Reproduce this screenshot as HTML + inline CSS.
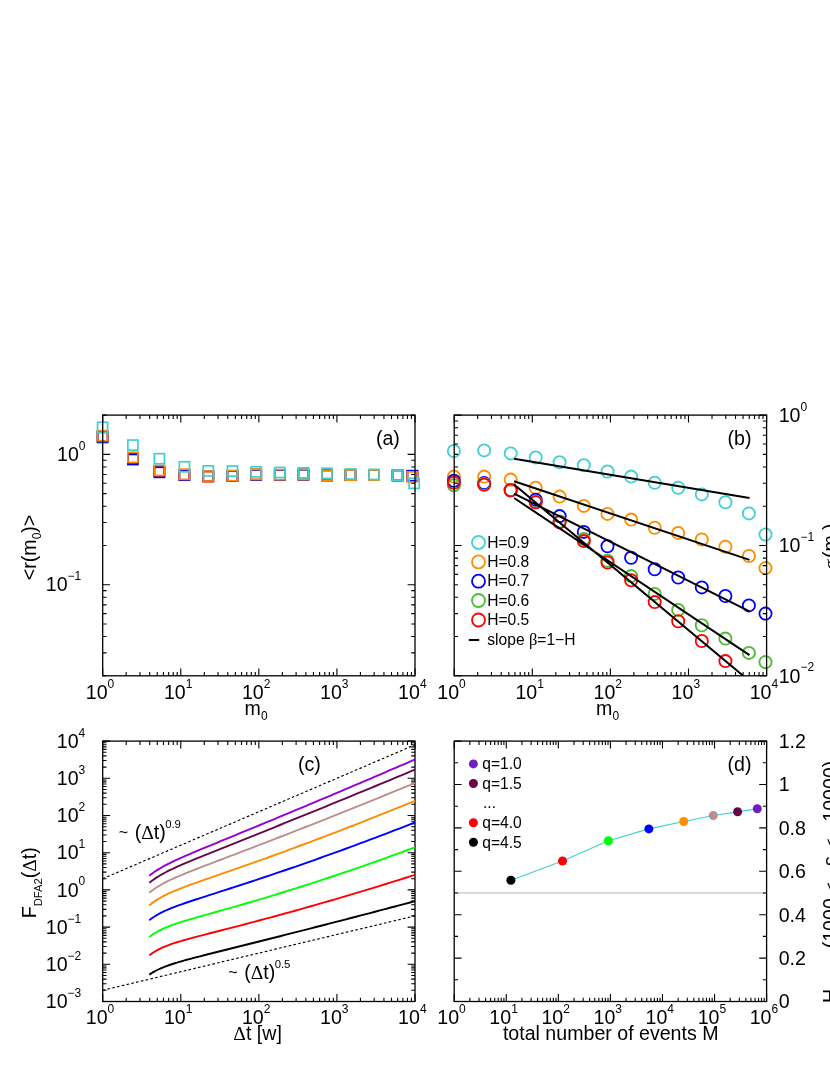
<!DOCTYPE html>
<html><head><meta charset="utf-8"><title>figure</title>
<style>html,body{margin:0;padding:0;background:#fff}svg{display:block;will-change:transform}text{font-family:"Liberation Sans",sans-serif;fill:#000}</style>
</head><body>
<svg width="830" height="1075" viewBox="0 0 830 1075">
<rect width="830" height="1075" fill="#fff"/>
<rect x="97.55" y="432.65" width="10.1" height="10.1" fill="none" stroke="#4cbb32" stroke-width="1.7"/>
<rect x="127.85" y="452.95" width="10.1" height="10.1" fill="none" stroke="#4cbb32" stroke-width="1.7"/>
<rect x="154.35" y="465.95" width="10.1" height="10.1" fill="none" stroke="#4cbb32" stroke-width="1.7"/>
<rect x="179.35" y="470.15" width="10.1" height="10.1" fill="none" stroke="#4cbb32" stroke-width="1.7"/>
<rect x="203.25" y="471.15" width="10.1" height="10.1" fill="none" stroke="#4cbb32" stroke-width="1.7"/>
<rect x="227.45" y="470.75" width="10.1" height="10.1" fill="none" stroke="#4cbb32" stroke-width="1.7"/>
<rect x="251.15" y="469.55" width="10.1" height="10.1" fill="none" stroke="#4cbb32" stroke-width="1.7"/>
<rect x="274.75" y="469.95" width="10.1" height="10.1" fill="none" stroke="#4cbb32" stroke-width="1.7"/>
<rect x="298.35" y="469.55" width="10.1" height="10.1" fill="none" stroke="#4cbb32" stroke-width="1.7"/>
<rect x="321.85" y="470.35" width="10.1" height="10.1" fill="none" stroke="#4cbb32" stroke-width="1.7"/>
<rect x="345.45" y="470.05" width="10.1" height="10.1" fill="none" stroke="#4cbb32" stroke-width="1.7"/>
<rect x="369.05" y="470.05" width="10.1" height="10.1" fill="none" stroke="#4cbb32" stroke-width="1.7"/>
<rect x="392.55" y="470.35" width="10.1" height="10.1" fill="none" stroke="#4cbb32" stroke-width="1.7"/>
<rect x="407.35" y="470.95" width="10.1" height="10.1" fill="none" stroke="#4cbb32" stroke-width="1.7"/>
<rect x="97.55" y="430.95" width="10.1" height="10.1" fill="none" stroke="#ff0000" stroke-width="1.7"/>
<rect x="127.85" y="452.95" width="10.1" height="10.1" fill="none" stroke="#ff0000" stroke-width="1.7"/>
<rect x="154.35" y="465.95" width="10.1" height="10.1" fill="none" stroke="#ff0000" stroke-width="1.7"/>
<rect x="179.35" y="469.75" width="10.1" height="10.1" fill="none" stroke="#ff0000" stroke-width="1.7"/>
<rect x="203.25" y="471.65" width="10.1" height="10.1" fill="none" stroke="#ff0000" stroke-width="1.7"/>
<rect x="227.45" y="470.95" width="10.1" height="10.1" fill="none" stroke="#ff0000" stroke-width="1.7"/>
<rect x="251.15" y="469.55" width="10.1" height="10.1" fill="none" stroke="#ff0000" stroke-width="1.7"/>
<rect x="274.75" y="469.95" width="10.1" height="10.1" fill="none" stroke="#ff0000" stroke-width="1.7"/>
<rect x="298.35" y="469.55" width="10.1" height="10.1" fill="none" stroke="#ff0000" stroke-width="1.7"/>
<rect x="321.85" y="470.35" width="10.1" height="10.1" fill="none" stroke="#ff0000" stroke-width="1.7"/>
<rect x="345.45" y="470.05" width="10.1" height="10.1" fill="none" stroke="#ff0000" stroke-width="1.7"/>
<rect x="369.05" y="470.05" width="10.1" height="10.1" fill="none" stroke="#ff0000" stroke-width="1.7"/>
<rect x="392.55" y="470.35" width="10.1" height="10.1" fill="none" stroke="#ff0000" stroke-width="1.7"/>
<rect x="407.35" y="470.95" width="10.1" height="10.1" fill="none" stroke="#ff0000" stroke-width="1.7"/>
<rect x="97.55" y="431.85" width="10.1" height="10.1" fill="none" stroke="#0000ff" stroke-width="1.7"/>
<rect x="127.85" y="454.45" width="10.1" height="10.1" fill="none" stroke="#0000ff" stroke-width="1.7"/>
<rect x="154.35" y="467.25" width="10.1" height="10.1" fill="none" stroke="#0000ff" stroke-width="1.7"/>
<rect x="179.35" y="469.95" width="10.1" height="10.1" fill="none" stroke="#0000ff" stroke-width="1.7"/>
<rect x="203.25" y="470.95" width="10.1" height="10.1" fill="none" stroke="#0000ff" stroke-width="1.7"/>
<rect x="227.45" y="470.95" width="10.1" height="10.1" fill="none" stroke="#0000ff" stroke-width="1.7"/>
<rect x="251.15" y="469.75" width="10.1" height="10.1" fill="none" stroke="#0000ff" stroke-width="1.7"/>
<rect x="274.75" y="469.95" width="10.1" height="10.1" fill="none" stroke="#0000ff" stroke-width="1.7"/>
<rect x="298.35" y="469.55" width="10.1" height="10.1" fill="none" stroke="#0000ff" stroke-width="1.7"/>
<rect x="321.85" y="470.35" width="10.1" height="10.1" fill="none" stroke="#0000ff" stroke-width="1.7"/>
<rect x="345.45" y="470.05" width="10.1" height="10.1" fill="none" stroke="#0000ff" stroke-width="1.7"/>
<rect x="369.05" y="470.05" width="10.1" height="10.1" fill="none" stroke="#0000ff" stroke-width="1.7"/>
<rect x="392.55" y="470.35" width="10.1" height="10.1" fill="none" stroke="#0000ff" stroke-width="1.7"/>
<rect x="407.35" y="470.65" width="10.1" height="10.1" fill="none" stroke="#0000ff" stroke-width="1.7"/>
<rect x="97.55" y="430.65" width="10.1" height="10.1" fill="none" stroke="#ff8c00" stroke-width="1.7"/>
<rect x="127.85" y="452.25" width="10.1" height="10.1" fill="none" stroke="#ff8c00" stroke-width="1.7"/>
<rect x="154.35" y="465.35" width="10.1" height="10.1" fill="none" stroke="#ff8c00" stroke-width="1.7"/>
<rect x="179.35" y="469.25" width="10.1" height="10.1" fill="none" stroke="#ff8c00" stroke-width="1.7"/>
<rect x="203.25" y="470.95" width="10.1" height="10.1" fill="none" stroke="#ff8c00" stroke-width="1.7"/>
<rect x="227.45" y="470.65" width="10.1" height="10.1" fill="none" stroke="#ff8c00" stroke-width="1.7"/>
<rect x="251.15" y="469.25" width="10.1" height="10.1" fill="none" stroke="#ff8c00" stroke-width="1.7"/>
<rect x="274.75" y="469.65" width="10.1" height="10.1" fill="none" stroke="#ff8c00" stroke-width="1.7"/>
<rect x="298.35" y="469.35" width="10.1" height="10.1" fill="none" stroke="#ff8c00" stroke-width="1.7"/>
<rect x="321.85" y="470.35" width="10.1" height="10.1" fill="none" stroke="#ff8c00" stroke-width="1.7"/>
<rect x="345.45" y="470.05" width="10.1" height="10.1" fill="none" stroke="#ff8c00" stroke-width="1.7"/>
<rect x="369.05" y="470.05" width="10.1" height="10.1" fill="none" stroke="#ff8c00" stroke-width="1.7"/>
<rect x="392.55" y="470.35" width="10.1" height="10.1" fill="none" stroke="#ff8c00" stroke-width="1.7"/>
<rect x="407.35" y="471.85" width="10.1" height="10.1" fill="none" stroke="#ff8c00" stroke-width="1.7"/>
<rect x="97.55" y="422.25" width="10.1" height="10.1" fill="none" stroke="#40d0d0" stroke-width="1.7"/>
<rect x="127.85" y="440.05" width="10.1" height="10.1" fill="none" stroke="#40d0d0" stroke-width="1.7"/>
<rect x="154.35" y="453.65" width="10.1" height="10.1" fill="none" stroke="#40d0d0" stroke-width="1.7"/>
<rect x="179.35" y="461.75" width="10.1" height="10.1" fill="none" stroke="#40d0d0" stroke-width="1.7"/>
<rect x="203.25" y="465.85" width="10.1" height="10.1" fill="none" stroke="#40d0d0" stroke-width="1.7"/>
<rect x="227.45" y="466.05" width="10.1" height="10.1" fill="none" stroke="#40d0d0" stroke-width="1.7"/>
<rect x="251.15" y="466.75" width="10.1" height="10.1" fill="none" stroke="#40d0d0" stroke-width="1.7"/>
<rect x="274.75" y="467.45" width="10.1" height="10.1" fill="none" stroke="#40d0d0" stroke-width="1.7"/>
<rect x="298.35" y="467.75" width="10.1" height="10.1" fill="none" stroke="#40d0d0" stroke-width="1.7"/>
<rect x="321.85" y="468.25" width="10.1" height="10.1" fill="none" stroke="#40d0d0" stroke-width="1.7"/>
<rect x="345.45" y="468.95" width="10.1" height="10.1" fill="none" stroke="#40d0d0" stroke-width="1.7"/>
<rect x="369.05" y="469.35" width="10.1" height="10.1" fill="none" stroke="#40d0d0" stroke-width="1.7"/>
<rect x="392.55" y="470.05" width="10.1" height="10.1" fill="none" stroke="#40d0d0" stroke-width="1.7"/>
<rect x="409.15" y="478.35" width="10.1" height="10.1" fill="none" stroke="#40d0d0" stroke-width="1.7"/>
<rect x="102.7" y="415.1" width="312.30" height="260.70" fill="none" stroke="#000" stroke-width="1.3"/>
<path d="M102.70 675.8v-7.4M102.70 415.1v7.4M126.20 675.8v-3.8M126.20 415.1v3.8M139.95 675.8v-3.8M139.95 415.1v3.8M149.71 675.8v-3.8M149.71 415.1v3.8M157.27 675.8v-3.8M157.27 415.1v3.8M163.45 675.8v-3.8M163.45 415.1v3.8M168.68 675.8v-3.8M168.68 415.1v3.8M173.21 675.8v-3.8M173.21 415.1v3.8M177.20 675.8v-3.8M177.20 415.1v3.8M180.78 675.8v-7.4M180.78 415.1v7.4M204.28 675.8v-3.8M204.28 415.1v3.8M218.03 675.8v-3.8M218.03 415.1v3.8M227.78 675.8v-3.8M227.78 415.1v3.8M235.35 675.8v-3.8M235.35 415.1v3.8M241.53 675.8v-3.8M241.53 415.1v3.8M246.76 675.8v-3.8M246.76 415.1v3.8M251.28 675.8v-3.8M251.28 415.1v3.8M255.28 675.8v-3.8M255.28 415.1v3.8M258.85 675.8v-7.4M258.85 415.1v7.4M282.35 675.8v-3.8M282.35 415.1v3.8M296.10 675.8v-3.8M296.10 415.1v3.8M305.86 675.8v-3.8M305.86 415.1v3.8M313.42 675.8v-3.8M313.42 415.1v3.8M319.60 675.8v-3.8M319.60 415.1v3.8M324.83 675.8v-3.8M324.83 415.1v3.8M329.36 675.8v-3.8M329.36 415.1v3.8M333.35 675.8v-3.8M333.35 415.1v3.8M336.93 675.8v-7.4M336.93 415.1v7.4M360.43 675.8v-3.8M360.43 415.1v3.8M374.18 675.8v-3.8M374.18 415.1v3.8M383.93 675.8v-3.8M383.93 415.1v3.8M391.50 675.8v-3.8M391.50 415.1v3.8M397.68 675.8v-3.8M397.68 415.1v3.8M402.91 675.8v-3.8M402.91 415.1v3.8M407.43 675.8v-3.8M407.43 415.1v3.8M411.43 675.8v-3.8M411.43 415.1v3.8M415.00 675.8v-7.4M415.00 415.1v7.4" stroke="#000" stroke-width="1.1" fill="none"/>
<path d="M102.7 675.80h3.8M415.0 675.80h-3.8M102.7 652.85h3.8M415.0 652.85h-3.8M102.7 636.56h3.8M415.0 636.56h-3.8M102.7 623.93h3.8M415.0 623.93h-3.8M102.7 613.61h3.8M415.0 613.61h-3.8M102.7 604.88h3.8M415.0 604.88h-3.8M102.7 597.32h3.8M415.0 597.32h-3.8M102.7 590.65h3.8M415.0 590.65h-3.8M102.7 584.69h7.4M415.0 584.69h-7.4M102.7 545.45h3.8M415.0 545.45h-3.8M102.7 522.50h3.8M415.0 522.50h-3.8M102.7 506.21h3.8M415.0 506.21h-3.8M102.7 493.58h3.8M415.0 493.58h-3.8M102.7 483.26h3.8M415.0 483.26h-3.8M102.7 474.53h3.8M415.0 474.53h-3.8M102.7 466.97h3.8M415.0 466.97h-3.8M102.7 460.30h3.8M415.0 460.30h-3.8M102.7 454.34h7.4M415.0 454.34h-7.4M102.7 415.10h3.8M415.0 415.10h-3.8" stroke="#000" stroke-width="1.1" fill="none"/>
<text x="85.80" y="698.90" font-size="19.6">10<tspan dy="-11.2" font-size="12.0">0</tspan></text>
<text x="163.88" y="698.90" font-size="19.6">10<tspan dy="-11.2" font-size="12.0">1</tspan></text>
<text x="241.95" y="698.90" font-size="19.6">10<tspan dy="-11.2" font-size="12.0">2</tspan></text>
<text x="320.03" y="698.90" font-size="19.6">10<tspan dy="-11.2" font-size="12.0">3</tspan></text>
<text x="398.10" y="698.90" font-size="19.6">10<tspan dy="-11.2" font-size="12.0">4</tspan></text>
<text x="57.00" y="460.84" font-size="19.6">10<tspan dy="-11.2" font-size="12.0">0</tspan></text>
<text x="45.80" y="591.19" font-size="19.6">10<tspan dy="-11.2" font-size="12.0">−1</tspan></text>
<text x="244.6" y="714.6" font-size="19.6">m<tspan dy="5" font-size="12.0">0</tspan></text>
<text x="375.9" y="444.6" font-size="19.6">(a)</text>
<text transform="translate(35.9,580.2) rotate(-90)" font-size="19.6">&lt;r(m<tspan dy="5" font-size="12.0">0</tspan><tspan dy="-5">)&gt;</tspan></text>
<circle cx="453.90" cy="451.00" r="6.1" fill="none" stroke="#40d0d0" stroke-width="1.8"/>
<circle cx="484.20" cy="450.40" r="6.1" fill="none" stroke="#40d0d0" stroke-width="1.8"/>
<circle cx="510.70" cy="453.40" r="6.1" fill="none" stroke="#40d0d0" stroke-width="1.8"/>
<circle cx="535.70" cy="457.50" r="6.1" fill="none" stroke="#40d0d0" stroke-width="1.8"/>
<circle cx="559.60" cy="462.20" r="6.1" fill="none" stroke="#40d0d0" stroke-width="1.8"/>
<circle cx="583.80" cy="465.30" r="6.1" fill="none" stroke="#40d0d0" stroke-width="1.8"/>
<circle cx="607.50" cy="471.50" r="6.1" fill="none" stroke="#40d0d0" stroke-width="1.8"/>
<circle cx="631.10" cy="476.60" r="6.1" fill="none" stroke="#40d0d0" stroke-width="1.8"/>
<circle cx="654.70" cy="482.70" r="6.1" fill="none" stroke="#40d0d0" stroke-width="1.8"/>
<circle cx="678.20" cy="487.80" r="6.1" fill="none" stroke="#40d0d0" stroke-width="1.8"/>
<circle cx="701.80" cy="494.40" r="6.1" fill="none" stroke="#40d0d0" stroke-width="1.8"/>
<circle cx="725.40" cy="502.20" r="6.1" fill="none" stroke="#40d0d0" stroke-width="1.8"/>
<circle cx="748.90" cy="513.40" r="6.1" fill="none" stroke="#40d0d0" stroke-width="1.8"/>
<circle cx="765.50" cy="534.50" r="6.1" fill="none" stroke="#40d0d0" stroke-width="1.8"/>
<circle cx="453.90" cy="476.60" r="6.1" fill="none" stroke="#ff8c00" stroke-width="1.8"/>
<circle cx="484.20" cy="476.60" r="6.1" fill="none" stroke="#ff8c00" stroke-width="1.8"/>
<circle cx="510.70" cy="479.60" r="6.1" fill="none" stroke="#ff8c00" stroke-width="1.8"/>
<circle cx="535.70" cy="487.80" r="6.1" fill="none" stroke="#ff8c00" stroke-width="1.8"/>
<circle cx="559.60" cy="496.60" r="6.1" fill="none" stroke="#ff8c00" stroke-width="1.8"/>
<circle cx="583.80" cy="505.90" r="6.1" fill="none" stroke="#ff8c00" stroke-width="1.8"/>
<circle cx="607.50" cy="513.90" r="6.1" fill="none" stroke="#ff8c00" stroke-width="1.8"/>
<circle cx="631.10" cy="519.60" r="6.1" fill="none" stroke="#ff8c00" stroke-width="1.8"/>
<circle cx="654.70" cy="527.80" r="6.1" fill="none" stroke="#ff8c00" stroke-width="1.8"/>
<circle cx="678.20" cy="532.90" r="6.1" fill="none" stroke="#ff8c00" stroke-width="1.8"/>
<circle cx="701.80" cy="539.50" r="6.1" fill="none" stroke="#ff8c00" stroke-width="1.8"/>
<circle cx="725.40" cy="546.80" r="6.1" fill="none" stroke="#ff8c00" stroke-width="1.8"/>
<circle cx="748.90" cy="556.00" r="6.1" fill="none" stroke="#ff8c00" stroke-width="1.8"/>
<circle cx="765.50" cy="568.10" r="6.1" fill="none" stroke="#ff8c00" stroke-width="1.8"/>
<circle cx="453.90" cy="480.70" r="6.1" fill="none" stroke="#0000ff" stroke-width="1.8"/>
<circle cx="484.20" cy="483.10" r="6.1" fill="none" stroke="#0000ff" stroke-width="1.8"/>
<circle cx="510.70" cy="490.30" r="6.1" fill="none" stroke="#0000ff" stroke-width="1.8"/>
<circle cx="535.70" cy="499.70" r="6.1" fill="none" stroke="#0000ff" stroke-width="1.8"/>
<circle cx="559.60" cy="516.10" r="6.1" fill="none" stroke="#0000ff" stroke-width="1.8"/>
<circle cx="583.80" cy="531.90" r="6.1" fill="none" stroke="#0000ff" stroke-width="1.8"/>
<circle cx="607.50" cy="546.30" r="6.1" fill="none" stroke="#0000ff" stroke-width="1.8"/>
<circle cx="631.10" cy="557.70" r="6.1" fill="none" stroke="#0000ff" stroke-width="1.8"/>
<circle cx="654.70" cy="569.30" r="6.1" fill="none" stroke="#0000ff" stroke-width="1.8"/>
<circle cx="678.20" cy="577.50" r="6.1" fill="none" stroke="#0000ff" stroke-width="1.8"/>
<circle cx="701.80" cy="587.40" r="6.1" fill="none" stroke="#0000ff" stroke-width="1.8"/>
<circle cx="725.40" cy="596.00" r="6.1" fill="none" stroke="#0000ff" stroke-width="1.8"/>
<circle cx="748.90" cy="605.40" r="6.1" fill="none" stroke="#0000ff" stroke-width="1.8"/>
<circle cx="765.50" cy="613.60" r="6.1" fill="none" stroke="#0000ff" stroke-width="1.8"/>
<circle cx="453.90" cy="485.20" r="6.1" fill="none" stroke="#4cbb32" stroke-width="1.8"/>
<circle cx="484.20" cy="484.00" r="6.1" fill="none" stroke="#4cbb32" stroke-width="1.8"/>
<circle cx="510.70" cy="490.00" r="6.1" fill="none" stroke="#4cbb32" stroke-width="1.8"/>
<circle cx="535.70" cy="501.80" r="6.1" fill="none" stroke="#4cbb32" stroke-width="1.8"/>
<circle cx="559.60" cy="521.60" r="6.1" fill="none" stroke="#4cbb32" stroke-width="1.8"/>
<circle cx="583.80" cy="539.00" r="6.1" fill="none" stroke="#4cbb32" stroke-width="1.8"/>
<circle cx="607.50" cy="560.70" r="6.1" fill="none" stroke="#4cbb32" stroke-width="1.8"/>
<circle cx="631.10" cy="576.10" r="6.1" fill="none" stroke="#4cbb32" stroke-width="1.8"/>
<circle cx="654.70" cy="593.90" r="6.1" fill="none" stroke="#4cbb32" stroke-width="1.8"/>
<circle cx="678.20" cy="609.90" r="6.1" fill="none" stroke="#4cbb32" stroke-width="1.8"/>
<circle cx="701.80" cy="625.20" r="6.1" fill="none" stroke="#4cbb32" stroke-width="1.8"/>
<circle cx="725.40" cy="638.60" r="6.1" fill="none" stroke="#4cbb32" stroke-width="1.8"/>
<circle cx="748.90" cy="652.90" r="6.1" fill="none" stroke="#4cbb32" stroke-width="1.8"/>
<circle cx="765.50" cy="662.10" r="6.1" fill="none" stroke="#4cbb32" stroke-width="1.8"/>
<circle cx="453.90" cy="482.70" r="6.1" fill="none" stroke="#ff0000" stroke-width="1.8"/>
<circle cx="484.20" cy="484.80" r="6.1" fill="none" stroke="#ff0000" stroke-width="1.8"/>
<circle cx="510.70" cy="490.30" r="6.1" fill="none" stroke="#ff0000" stroke-width="1.8"/>
<circle cx="535.70" cy="502.20" r="6.1" fill="none" stroke="#ff0000" stroke-width="1.8"/>
<circle cx="559.60" cy="522.20" r="6.1" fill="none" stroke="#ff0000" stroke-width="1.8"/>
<circle cx="583.80" cy="541.10" r="6.1" fill="none" stroke="#ff0000" stroke-width="1.8"/>
<circle cx="607.50" cy="562.50" r="6.1" fill="none" stroke="#ff0000" stroke-width="1.8"/>
<circle cx="631.10" cy="580.20" r="6.1" fill="none" stroke="#ff0000" stroke-width="1.8"/>
<circle cx="654.70" cy="602.10" r="6.1" fill="none" stroke="#ff0000" stroke-width="1.8"/>
<circle cx="678.20" cy="621.20" r="6.1" fill="none" stroke="#ff0000" stroke-width="1.8"/>
<circle cx="701.80" cy="641.00" r="6.1" fill="none" stroke="#ff0000" stroke-width="1.8"/>
<circle cx="725.40" cy="661.10" r="6.1" fill="none" stroke="#ff0000" stroke-width="1.8"/>
<circle cx="478.5" cy="542.4" r="6.5" fill="none" stroke="#40d0d0" stroke-width="1.8"/>
<text x="487.2" y="547.60" font-size="15.6">H=0.9</text>
<circle cx="478.5" cy="561.9" r="6.5" fill="none" stroke="#ff8c00" stroke-width="1.8"/>
<text x="487.2" y="567.10" font-size="15.6">H=0.8</text>
<circle cx="478.5" cy="581.2" r="6.5" fill="none" stroke="#0000ff" stroke-width="1.8"/>
<text x="487.2" y="586.40" font-size="15.6">H=0.7</text>
<circle cx="478.5" cy="600.5" r="6.5" fill="none" stroke="#4cbb32" stroke-width="1.8"/>
<text x="487.2" y="605.70" font-size="15.6">H=0.6</text>
<circle cx="478.5" cy="620.0" r="6.5" fill="none" stroke="#ff0000" stroke-width="1.8"/>
<text x="487.2" y="625.20" font-size="15.6">H=0.5</text>
<path d="M468.8 640H479.2" stroke="#000" stroke-width="2"/>
<text x="487.3" y="645.2" font-size="15.6">slope <tspan font-family="Liberation Serif" font-size="16.5">β</tspan>=1−H</text>
<clipPath id="cb"><rect x="454.2" y="415.1" width="312.4" height="260.7"/></clipPath>
<path clip-path="url(#cb)" d="M514.1 458.75L749.5 498.04M514.1 481.3L749.5 559.88M514.1 493.6L749.5 611.47M514.1 498.0L749.5 655.15M514.1 484.6L749.5 681.04" stroke="#000" stroke-width="2" fill="none"/>
<rect x="454.2" y="415.1" width="312.40" height="260.70" fill="none" stroke="#000" stroke-width="1.3"/>
<path d="M454.20 675.8v-7.4M454.20 415.1v7.4M477.71 675.8v-3.8M477.71 415.1v3.8M491.46 675.8v-3.8M491.46 415.1v3.8M501.22 675.8v-3.8M501.22 415.1v3.8M508.79 675.8v-3.8M508.79 415.1v3.8M514.97 675.8v-3.8M514.97 415.1v3.8M520.20 675.8v-3.8M520.20 415.1v3.8M524.73 675.8v-3.8M524.73 415.1v3.8M528.73 675.8v-3.8M528.73 415.1v3.8M532.30 675.8v-7.4M532.30 415.1v7.4M555.81 675.8v-3.8M555.81 415.1v3.8M569.56 675.8v-3.8M569.56 415.1v3.8M579.32 675.8v-3.8M579.32 415.1v3.8M586.89 675.8v-3.8M586.89 415.1v3.8M593.07 675.8v-3.8M593.07 415.1v3.8M598.30 675.8v-3.8M598.30 415.1v3.8M602.83 675.8v-3.8M602.83 415.1v3.8M606.83 675.8v-3.8M606.83 415.1v3.8M610.40 675.8v-7.4M610.40 415.1v7.4M633.91 675.8v-3.8M633.91 415.1v3.8M647.66 675.8v-3.8M647.66 415.1v3.8M657.42 675.8v-3.8M657.42 415.1v3.8M664.99 675.8v-3.8M664.99 415.1v3.8M671.17 675.8v-3.8M671.17 415.1v3.8M676.40 675.8v-3.8M676.40 415.1v3.8M680.93 675.8v-3.8M680.93 415.1v3.8M684.93 675.8v-3.8M684.93 415.1v3.8M688.50 675.8v-7.4M688.50 415.1v7.4M712.01 675.8v-3.8M712.01 415.1v3.8M725.76 675.8v-3.8M725.76 415.1v3.8M735.52 675.8v-3.8M735.52 415.1v3.8M743.09 675.8v-3.8M743.09 415.1v3.8M749.27 675.8v-3.8M749.27 415.1v3.8M754.50 675.8v-3.8M754.50 415.1v3.8M759.03 675.8v-3.8M759.03 415.1v3.8M763.03 675.8v-3.8M763.03 415.1v3.8M766.60 675.8v-7.4M766.60 415.1v7.4" stroke="#000" stroke-width="1.1" fill="none"/>
<path d="M454.2 675.80h7.4M766.6 675.80h-7.4M454.2 636.56h3.8M766.6 636.56h-3.8M454.2 613.61h3.8M766.6 613.61h-3.8M454.2 597.32h3.8M766.6 597.32h-3.8M454.2 584.69h3.8M766.6 584.69h-3.8M454.2 574.37h3.8M766.6 574.37h-3.8M454.2 565.64h3.8M766.6 565.64h-3.8M454.2 558.08h3.8M766.6 558.08h-3.8M454.2 551.41h3.8M766.6 551.41h-3.8M454.2 545.45h7.4M766.6 545.45h-7.4M454.2 506.21h3.8M766.6 506.21h-3.8M454.2 483.26h3.8M766.6 483.26h-3.8M454.2 466.97h3.8M766.6 466.97h-3.8M454.2 454.34h3.8M766.6 454.34h-3.8M454.2 444.02h3.8M766.6 444.02h-3.8M454.2 435.29h3.8M766.6 435.29h-3.8M454.2 427.73h3.8M766.6 427.73h-3.8M454.2 421.06h3.8M766.6 421.06h-3.8M454.2 415.10h7.4M766.6 415.10h-7.4" stroke="#000" stroke-width="1.1" fill="none"/>
<text x="437.30" y="698.90" font-size="19.6">10<tspan dy="-11.2" font-size="12.0">0</tspan></text>
<text x="515.40" y="698.90" font-size="19.6">10<tspan dy="-11.2" font-size="12.0">1</tspan></text>
<text x="593.50" y="698.90" font-size="19.6">10<tspan dy="-11.2" font-size="12.0">2</tspan></text>
<text x="671.60" y="698.90" font-size="19.6">10<tspan dy="-11.2" font-size="12.0">3</tspan></text>
<text x="749.70" y="698.90" font-size="19.6">10<tspan dy="-11.2" font-size="12.0">4</tspan></text>
<text x="778.70" y="421.90" font-size="19.6">10<tspan dy="-11.2" font-size="12.0">0</tspan></text>
<text x="778.70" y="552.25" font-size="19.6">10<tspan dy="-11.2" font-size="12.0">−1</tspan></text>
<text x="778.70" y="682.60" font-size="19.6">10<tspan dy="-11.2" font-size="12.0">−2</tspan></text>
<text x="244.6" y="714.6" font-size="19.6" transform="translate(351.5,0)">m<tspan dy="5" font-size="12.0">0</tspan></text>
<text x="727.5" y="444.7" font-size="19.6">(b)</text>
<text transform="translate(836.8,569.5) rotate(-90)" font-size="19.6"><tspan font-family="Liberation Serif">σ</tspan><tspan x="11.5">(m</tspan><tspan dy="5" font-size="12.0">0</tspan><tspan dy="-5" x="39.5">)</tspan></text>
<path d="M102.7 878.70L415.0 744.78M102.7 990.30L415.0 915.90" stroke="#000" stroke-width="1.15" stroke-dasharray="2.6 2.3" fill="none"/>
<rect x="102.7" y="741.1" width="312.30" height="260.40" fill="none" stroke="#000" stroke-width="1.3"/>
<path d="M102.70 1001.5v-7.4M102.70 741.1v7.4M126.20 1001.5v-3.8M126.20 741.1v3.8M139.95 1001.5v-3.8M139.95 741.1v3.8M149.71 1001.5v-3.8M149.71 741.1v3.8M157.27 1001.5v-3.8M157.27 741.1v3.8M163.45 1001.5v-3.8M163.45 741.1v3.8M168.68 1001.5v-3.8M168.68 741.1v3.8M173.21 1001.5v-3.8M173.21 741.1v3.8M177.20 1001.5v-3.8M177.20 741.1v3.8M180.78 1001.5v-7.4M180.78 741.1v7.4M204.28 1001.5v-3.8M204.28 741.1v3.8M218.03 1001.5v-3.8M218.03 741.1v3.8M227.78 1001.5v-3.8M227.78 741.1v3.8M235.35 1001.5v-3.8M235.35 741.1v3.8M241.53 1001.5v-3.8M241.53 741.1v3.8M246.76 1001.5v-3.8M246.76 741.1v3.8M251.28 1001.5v-3.8M251.28 741.1v3.8M255.28 1001.5v-3.8M255.28 741.1v3.8M258.85 1001.5v-7.4M258.85 741.1v7.4M282.35 1001.5v-3.8M282.35 741.1v3.8M296.10 1001.5v-3.8M296.10 741.1v3.8M305.86 1001.5v-3.8M305.86 741.1v3.8M313.42 1001.5v-3.8M313.42 741.1v3.8M319.60 1001.5v-3.8M319.60 741.1v3.8M324.83 1001.5v-3.8M324.83 741.1v3.8M329.36 1001.5v-3.8M329.36 741.1v3.8M333.35 1001.5v-3.8M333.35 741.1v3.8M336.93 1001.5v-7.4M336.93 741.1v7.4M360.43 1001.5v-3.8M360.43 741.1v3.8M374.18 1001.5v-3.8M374.18 741.1v3.8M383.93 1001.5v-3.8M383.93 741.1v3.8M391.50 1001.5v-3.8M391.50 741.1v3.8M397.68 1001.5v-3.8M397.68 741.1v3.8M402.91 1001.5v-3.8M402.91 741.1v3.8M407.43 1001.5v-3.8M407.43 741.1v3.8M411.43 1001.5v-3.8M411.43 741.1v3.8M415.00 1001.5v-7.4M415.00 741.1v7.4" stroke="#000" stroke-width="1.1" fill="none"/>
<path d="M102.7 1001.50h7.4M415.0 1001.50h-7.4M102.7 990.30h3.8M415.0 990.30h-3.8M102.7 983.75h3.8M415.0 983.75h-3.8M102.7 979.10h3.8M415.0 979.10h-3.8M102.7 975.50h3.8M415.0 975.50h-3.8M102.7 972.55h3.8M415.0 972.55h-3.8M102.7 970.06h3.8M415.0 970.06h-3.8M102.7 967.91h3.8M415.0 967.91h-3.8M102.7 966.00h3.8M415.0 966.00h-3.8M102.7 964.30h7.4M415.0 964.30h-7.4M102.7 953.10h3.8M415.0 953.10h-3.8M102.7 946.55h3.8M415.0 946.55h-3.8M102.7 941.90h3.8M415.0 941.90h-3.8M102.7 938.30h3.8M415.0 938.30h-3.8M102.7 935.35h3.8M415.0 935.35h-3.8M102.7 932.86h3.8M415.0 932.86h-3.8M102.7 930.71h3.8M415.0 930.71h-3.8M102.7 928.80h3.8M415.0 928.80h-3.8M102.7 927.10h7.4M415.0 927.10h-7.4M102.7 915.90h3.8M415.0 915.90h-3.8M102.7 909.35h3.8M415.0 909.35h-3.8M102.7 904.70h3.8M415.0 904.70h-3.8M102.7 901.10h3.8M415.0 901.10h-3.8M102.7 898.15h3.8M415.0 898.15h-3.8M102.7 895.66h3.8M415.0 895.66h-3.8M102.7 893.51h3.8M415.0 893.51h-3.8M102.7 891.60h3.8M415.0 891.60h-3.8M102.7 889.90h7.4M415.0 889.90h-7.4M102.7 878.70h3.8M415.0 878.70h-3.8M102.7 872.15h3.8M415.0 872.15h-3.8M102.7 867.50h3.8M415.0 867.50h-3.8M102.7 863.90h3.8M415.0 863.90h-3.8M102.7 860.95h3.8M415.0 860.95h-3.8M102.7 858.46h3.8M415.0 858.46h-3.8M102.7 856.31h3.8M415.0 856.31h-3.8M102.7 854.40h3.8M415.0 854.40h-3.8M102.7 852.70h7.4M415.0 852.70h-7.4M102.7 841.50h3.8M415.0 841.50h-3.8M102.7 834.95h3.8M415.0 834.95h-3.8M102.7 830.30h3.8M415.0 830.30h-3.8M102.7 826.70h3.8M415.0 826.70h-3.8M102.7 823.75h3.8M415.0 823.75h-3.8M102.7 821.26h3.8M415.0 821.26h-3.8M102.7 819.11h3.8M415.0 819.11h-3.8M102.7 817.20h3.8M415.0 817.20h-3.8M102.7 815.50h7.4M415.0 815.50h-7.4M102.7 804.30h3.8M415.0 804.30h-3.8M102.7 797.75h3.8M415.0 797.75h-3.8M102.7 793.10h3.8M415.0 793.10h-3.8M102.7 789.50h3.8M415.0 789.50h-3.8M102.7 786.55h3.8M415.0 786.55h-3.8M102.7 784.06h3.8M415.0 784.06h-3.8M102.7 781.91h3.8M415.0 781.91h-3.8M102.7 780.00h3.8M415.0 780.00h-3.8M102.7 778.30h7.4M415.0 778.30h-7.4M102.7 767.10h3.8M415.0 767.10h-3.8M102.7 760.55h3.8M415.0 760.55h-3.8M102.7 755.90h3.8M415.0 755.90h-3.8M102.7 752.30h3.8M415.0 752.30h-3.8M102.7 749.35h3.8M415.0 749.35h-3.8M102.7 746.86h3.8M415.0 746.86h-3.8M102.7 744.71h3.8M415.0 744.71h-3.8M102.7 742.80h3.8M415.0 742.80h-3.8M102.7 741.10h7.4M415.0 741.10h-7.4" stroke="#000" stroke-width="1.1" fill="none"/>
<path d="M149.3 974.60L150.8 973.61L152.3 972.69L153.8 971.82L155.3 971.01L156.8 970.24L158.3 969.51L159.8 968.82L161.3 968.16L162.8 967.54L164.3 966.93L165.8 966.36L167.3 965.80L168.8 965.27L170.3 964.75L171.8 964.24L173.3 963.75L174.8 963.28L176.3 962.81L177.8 962.36L179.3 961.91L180.8 961.47L182.3 961.04L183.8 960.62L185.3 960.20L186.8 959.78L188.3 959.38L189.8 958.97L191.3 958.57L192.8 958.17L194.3 957.78L195.8 957.38L197.3 956.99L198.8 956.61L200.0 956.30L205.0 955.02L210.0 953.76L215.0 952.50L220.0 951.25L225.0 950.00L230.0 948.75L235.0 947.50L240.0 946.26L245.0 945.01L250.0 943.76L255.0 942.50L260.0 941.25L265.0 939.99L270.0 938.73L275.0 937.47L280.0 936.21L285.0 934.94L290.0 933.67L295.0 932.40L300.0 931.13L305.0 929.85L310.0 928.57L315.0 927.29L320.0 926.01L325.0 924.72L330.0 923.44L335.0 922.15L340.0 920.85L345.0 919.56L350.0 918.26L355.0 916.96L360.0 915.66L365.0 914.35L370.0 913.05L375.0 911.74L380.0 910.42L385.0 909.11L390.0 907.79L395.0 906.47L400.0 905.15L405.0 903.83L410.0 902.50L414.9 901.20" stroke="#000000" stroke-width="1.9" fill="none" stroke-linejoin="round"/>
<path d="M149.3 955.32L150.8 954.20L152.3 953.15L153.8 952.18L155.3 951.27L156.8 950.42L158.3 949.62L159.8 948.86L161.3 948.15L162.8 947.47L164.3 946.82L165.8 946.21L167.3 945.61L168.8 945.05L170.3 944.50L171.8 943.97L173.3 943.46L174.8 942.97L176.3 942.49L177.8 942.02L179.3 941.56L180.8 941.11L182.3 940.67L183.8 940.23L185.3 939.81L186.8 939.39L188.3 938.97L189.8 938.56L191.3 938.15L192.8 937.75L194.3 937.35L195.8 936.95L197.3 936.56L198.8 936.16L200.0 935.85L205.0 934.56L210.0 933.27L215.0 931.99L220.0 930.71L225.0 929.43L230.0 928.14L235.0 926.85L240.0 925.55L245.0 924.24L250.0 922.93L255.0 921.61L260.0 920.28L265.0 918.94L270.0 917.59L275.0 916.24L280.0 914.87L285.0 913.50L290.0 912.12L295.0 910.73L300.0 909.33L305.0 907.93L310.0 906.51L315.0 905.09L320.0 903.65L325.0 902.21L330.0 900.76L335.0 899.30L340.0 897.84L345.0 896.36L350.0 894.88L355.0 893.38L360.0 891.88L365.0 890.37L370.0 888.85L375.0 887.32L380.0 885.79L385.0 884.24L390.0 882.69L395.0 881.13L400.0 879.55L405.0 877.97L410.0 876.39L414.9 874.82" stroke="#ff0000" stroke-width="1.9" fill="none" stroke-linejoin="round"/>
<path d="M149.3 937.03L150.8 935.88L152.3 934.80L153.8 933.79L155.3 932.85L156.8 931.96L158.3 931.13L159.8 930.34L161.3 929.59L162.8 928.88L164.3 928.20L165.8 927.56L167.3 926.93L168.8 926.34L170.3 925.76L171.8 925.20L173.3 924.66L174.8 924.14L176.3 923.63L177.8 923.13L179.3 922.64L180.8 922.16L182.3 921.68L183.8 921.22L185.3 920.76L186.8 920.31L188.3 919.86L189.8 919.42L191.3 918.98L192.8 918.54L194.3 918.11L195.8 917.68L197.3 917.25L198.8 916.83L200.0 916.49L205.0 915.08L210.0 913.68L215.0 912.27L220.0 910.87L225.0 909.46L230.0 908.04L235.0 906.61L240.0 905.18L245.0 903.73L250.0 902.27L255.0 900.80L260.0 899.31L265.0 897.82L270.0 896.31L275.0 894.79L280.0 893.26L285.0 891.72L290.0 890.16L295.0 888.59L300.0 887.01L305.0 885.42L310.0 883.82L315.0 882.20L320.0 880.57L325.0 878.93L330.0 877.27L335.0 875.61L340.0 873.93L345.0 872.24L350.0 870.53L355.0 868.82L360.0 867.09L365.0 865.35L370.0 863.60L375.0 861.83L380.0 860.06L385.0 858.27L390.0 856.46L395.0 854.65L400.0 852.82L405.0 850.99L410.0 849.13L414.9 847.31" stroke="#00ff00" stroke-width="1.9" fill="none" stroke-linejoin="round"/>
<path d="M149.3 920.23L150.8 919.08L152.3 918.00L153.8 916.98L155.3 916.02L156.8 915.11L158.3 914.25L159.8 913.43L161.3 912.65L162.8 911.90L164.3 911.18L165.8 910.49L167.3 909.83L168.8 909.18L170.3 908.56L171.8 907.95L173.3 907.35L174.8 906.78L176.3 906.21L177.8 905.65L179.3 905.11L180.8 904.57L182.3 904.04L183.8 903.52L185.3 903.00L186.8 902.49L188.3 901.98L189.8 901.48L191.3 900.98L192.8 900.48L194.3 899.99L195.8 899.50L197.3 899.01L198.8 898.53L200.0 898.14L205.0 896.53L210.0 894.92L215.0 893.32L220.0 891.72L225.0 890.12L230.0 888.50L235.0 886.89L240.0 885.26L245.0 883.63L250.0 881.99L255.0 880.33L260.0 878.67L265.0 877.00L270.0 875.32L275.0 873.64L280.0 871.94L285.0 870.23L290.0 868.51L295.0 866.79L300.0 865.05L305.0 863.30L310.0 861.55L315.0 859.78L320.0 858.01L325.0 856.22L330.0 854.43L335.0 852.63L340.0 850.81L345.0 848.99L350.0 847.16L355.0 845.32L360.0 843.46L365.0 841.60L370.0 839.73L375.0 837.85L380.0 835.96L385.0 834.06L390.0 832.15L395.0 830.23L400.0 828.31L405.0 826.37L410.0 824.42L414.9 822.50" stroke="#0000ff" stroke-width="1.9" fill="none" stroke-linejoin="round"/>
<path d="M149.3 905.52L150.8 904.26L152.3 903.07L153.8 901.95L155.3 900.90L156.8 899.91L158.3 898.96L159.8 898.06L161.3 897.21L162.8 896.39L164.3 895.60L165.8 894.85L167.3 894.12L168.8 893.41L170.3 892.73L171.8 892.06L173.3 891.41L174.8 890.78L176.3 890.16L177.8 889.55L179.3 888.96L180.8 888.37L182.3 887.79L183.8 887.22L185.3 886.66L186.8 886.10L188.3 885.54L189.8 885.00L191.3 884.45L192.8 883.91L194.3 883.38L195.8 882.84L197.3 882.31L198.8 881.78L200.0 881.36L205.0 879.61L210.0 877.87L215.0 876.13L220.0 874.40L225.0 872.66L230.0 870.92L235.0 869.17L240.0 867.42L245.0 865.66L250.0 863.89L255.0 862.11L260.0 860.33L265.0 858.54L270.0 856.74L275.0 854.93L280.0 853.11L285.0 851.28L290.0 849.45L295.0 847.60L300.0 845.75L305.0 843.89L310.0 842.02L315.0 840.14L320.0 838.25L325.0 836.36L330.0 834.45L335.0 832.54L340.0 830.62L345.0 828.69L350.0 826.75L355.0 824.80L360.0 822.85L365.0 820.88L370.0 818.91L375.0 816.93L380.0 814.94L385.0 812.94L390.0 810.93L395.0 808.91L400.0 806.89L405.0 804.85L410.0 802.81L414.9 800.80" stroke="#ff8c00" stroke-width="1.9" fill="none" stroke-linejoin="round"/>
<path d="M149.3 892.83L150.8 891.60L152.3 890.45L153.8 889.35L155.3 888.31L156.8 887.32L158.3 886.37L159.8 885.47L161.3 884.60L162.8 883.76L164.3 882.95L165.8 882.17L167.3 881.41L168.8 880.67L170.3 879.95L171.8 879.24L173.3 878.55L174.8 877.88L176.3 877.22L177.8 876.56L179.3 875.92L180.8 875.29L182.3 874.66L183.8 874.04L185.3 873.43L186.8 872.82L188.3 872.22L189.8 871.62L191.3 871.02L192.8 870.43L194.3 869.84L195.8 869.26L197.3 868.67L198.8 868.09L200.0 867.63L205.0 865.71L210.0 863.80L215.0 861.89L220.0 859.99L225.0 858.09L230.0 856.19L235.0 854.29L240.0 852.38L245.0 850.47L250.0 848.56L255.0 846.65L260.0 844.73L265.0 842.80L270.0 840.87L275.0 838.94L280.0 837.00L285.0 835.06L290.0 833.11L295.0 831.16L300.0 829.21L305.0 827.25L310.0 825.28L315.0 823.31L320.0 821.34L325.0 819.36L330.0 817.37L335.0 815.39L340.0 813.39L345.0 811.40L350.0 809.40L355.0 807.39L360.0 805.38L365.0 803.36L370.0 801.34L375.0 799.32L380.0 797.29L385.0 795.25L390.0 793.22L395.0 791.17L400.0 789.12L405.0 787.07L410.0 785.02L414.9 783.00" stroke="#bc8f8f" stroke-width="1.9" fill="none" stroke-linejoin="round"/>
<path d="M149.3 882.82L150.8 881.63L152.3 880.49L153.8 879.42L155.3 878.39L156.8 877.41L158.3 876.47L159.8 875.56L161.3 874.69L162.8 873.85L164.3 873.03L165.8 872.23L167.3 871.46L168.8 870.70L170.3 869.96L171.8 869.24L173.3 868.53L174.8 867.83L176.3 867.14L177.8 866.47L179.3 865.80L180.8 865.14L182.3 864.48L183.8 863.84L185.3 863.19L186.8 862.56L188.3 861.92L189.8 861.29L191.3 860.67L192.8 860.05L194.3 859.43L195.8 858.81L197.3 858.20L198.8 857.59L200.0 857.10L205.0 855.07L210.0 853.06L215.0 851.05L220.0 849.05L225.0 847.05L230.0 845.06L235.0 843.06L240.0 841.06L245.0 839.06L250.0 837.06L255.0 835.05L260.0 833.05L265.0 831.04L270.0 829.03L275.0 827.02L280.0 825.00L285.0 822.99L290.0 820.97L295.0 818.94L300.0 816.92L305.0 814.89L310.0 812.86L315.0 810.83L320.0 808.80L325.0 806.76L330.0 804.72L335.0 802.68L340.0 800.63L345.0 798.58L350.0 796.53L355.0 794.48L360.0 792.43L365.0 790.37L370.0 788.31L375.0 786.25L380.0 784.18L385.0 782.12L390.0 780.05L395.0 777.97L400.0 775.90L405.0 773.82L410.0 771.74L414.9 769.70" stroke="#670748" stroke-width="1.9" fill="none" stroke-linejoin="round"/>
<path d="M149.3 875.70L150.8 874.52L152.3 873.40L153.8 872.33L155.3 871.31L156.8 870.33L158.3 869.39L159.8 868.48L161.3 867.60L162.8 866.76L164.3 865.93L165.8 865.13L167.3 864.35L168.8 863.59L170.3 862.84L171.8 862.10L173.3 861.38L174.8 860.68L176.3 859.98L177.8 859.29L179.3 858.61L180.8 857.94L182.3 857.27L183.8 856.61L185.3 855.95L186.8 855.30L188.3 854.66L189.8 854.01L191.3 853.37L192.8 852.74L194.3 852.11L195.8 851.47L197.3 850.85L198.8 850.22L200.0 849.72L205.0 847.64L210.0 845.58L215.0 843.52L220.0 841.46L225.0 839.41L230.0 837.35L235.0 835.30L240.0 833.24L245.0 831.19L250.0 829.13L255.0 827.06L260.0 825.00L265.0 822.93L270.0 820.86L275.0 818.78L280.0 816.71L285.0 814.63L290.0 812.54L295.0 810.46L300.0 808.37L305.0 806.27L310.0 804.18L315.0 802.08L320.0 799.98L325.0 797.87L330.0 795.76L335.0 793.65L340.0 791.54L345.0 789.42L350.0 787.30L355.0 785.18L360.0 783.05L365.0 780.92L370.0 778.79L375.0 776.65L380.0 774.51L385.0 772.37L390.0 770.22L395.0 768.07L400.0 765.92L405.0 763.77L410.0 761.61L414.9 759.49" stroke="#9400d3" stroke-width="1.9" fill="none" stroke-linejoin="round"/>
<text x="85.80" y="1024.30" font-size="19.6">10<tspan dy="-11.2" font-size="12.0">0</tspan></text>
<text x="163.88" y="1024.30" font-size="19.6">10<tspan dy="-11.2" font-size="12.0">1</tspan></text>
<text x="241.95" y="1024.30" font-size="19.6">10<tspan dy="-11.2" font-size="12.0">2</tspan></text>
<text x="320.03" y="1024.30" font-size="19.6">10<tspan dy="-11.2" font-size="12.0">3</tspan></text>
<text x="398.10" y="1024.30" font-size="19.6">10<tspan dy="-11.2" font-size="12.0">4</tspan></text>
<text x="56.80" y="747.70" font-size="19.6">10<tspan dy="-11.2" font-size="12.0">4</tspan></text>
<text x="56.80" y="784.90" font-size="19.6">10<tspan dy="-11.2" font-size="12.0">3</tspan></text>
<text x="56.80" y="822.10" font-size="19.6">10<tspan dy="-11.2" font-size="12.0">2</tspan></text>
<text x="56.80" y="859.30" font-size="19.6">10<tspan dy="-11.2" font-size="12.0">1</tspan></text>
<text x="56.80" y="896.50" font-size="19.6">10<tspan dy="-11.2" font-size="12.0">0</tspan></text>
<text x="45.80" y="933.70" font-size="19.6">10<tspan dy="-11.2" font-size="12.0">−1</tspan></text>
<text x="45.80" y="970.90" font-size="19.6">10<tspan dy="-11.2" font-size="12.0">−2</tspan></text>
<text x="45.80" y="1008.10" font-size="19.6">10<tspan dy="-11.2" font-size="12.0">−3</tspan></text>
<text x="233.3" y="1040.2" font-size="19.6"><tspan font-family="Liberation Serif">Δ</tspan>t [w]</text>
<text x="298.0" y="770.7" font-size="19.6">(c)</text>
<text x="118.7" y="839" font-size="19.6"><tspan font-size="16" dy="-1.3">~</tspan><tspan x="134.7" dy="1.3">(</tspan><tspan font-family="Liberation Serif">Δ</tspan>t)<tspan dy="-11.5" dx="-0.6" font-size="11.3">0.9</tspan></text>
<text x="228.2" y="979" font-size="19.6"><tspan font-size="16" dy="-1.3">~</tspan><tspan x="244.2" dy="1.3">(</tspan><tspan font-family="Liberation Serif">Δ</tspan>t)<tspan dy="-11.5" dx="-0.6" font-size="11.3">0.5</tspan></text>
<text transform="translate(36.0,918.3) rotate(-90)" font-size="19.6">F<tspan dy="6" font-size="11.2">DFA2</tspan><tspan dy="-6">(</tspan><tspan font-family="Liberation Serif">Δ</tspan>t)</text>
<path d="M454.2 892.9H766.6" stroke="#d3d3d3" stroke-width="1.6"/>
<path d="M510.9 880.2L562.5 861.0L608.4 840.7L648.9 828.9L683.7 821.5L713.3 815.5L737.6 811.8L757.3 808.7" stroke="#40d0d0" stroke-width="1.2" fill="none"/>
<circle cx="510.9" cy="880.2" r="4.5" fill="#000"/>
<circle cx="562.5" cy="861.0" r="4.5" fill="#ff0000"/>
<circle cx="608.4" cy="840.7" r="4.5" fill="#00ff00"/>
<circle cx="648.9" cy="828.9" r="4.5" fill="#0000ff"/>
<circle cx="683.7" cy="821.5" r="4.5" fill="#ff8c00"/>
<circle cx="713.3" cy="815.5" r="4.5" fill="#bc8f8f"/>
<circle cx="737.6" cy="811.8" r="4.5" fill="#670748"/>
<circle cx="757.3" cy="808.7" r="4.5" fill="#7020c0"/>
<circle cx="473.4" cy="763.9" r="4.5" fill="#7020c0"/>
<text x="482.3" y="769.10" font-size="15.6">q=1.0</text>
<circle cx="473.4" cy="783.5" r="4.5" fill="#670748"/>
<text x="482.3" y="788.70" font-size="15.6">q=1.5</text>
<text x="483.0" y="808.30" font-size="15.6">...</text>
<circle cx="473.4" cy="822.7" r="4.5" fill="#ff0000"/>
<text x="482.3" y="827.90" font-size="15.6">q=4.0</text>
<circle cx="473.4" cy="842.3" r="4.5" fill="#000"/>
<text x="482.3" y="847.50" font-size="15.6">q=4.5</text>
<rect x="454.2" y="741.1" width="312.40" height="260.40" fill="none" stroke="#000" stroke-width="1.3"/>
<path d="M454.20 1001.5v-7.4M454.20 741.1v7.4M469.87 1001.5v-3.8M469.87 741.1v3.8M479.04 1001.5v-3.8M479.04 741.1v3.8M485.55 1001.5v-3.8M485.55 741.1v3.8M490.59 1001.5v-3.8M490.59 741.1v3.8M494.72 1001.5v-3.8M494.72 741.1v3.8M498.20 1001.5v-3.8M498.20 741.1v3.8M501.22 1001.5v-3.8M501.22 741.1v3.8M503.88 1001.5v-3.8M503.88 741.1v3.8M506.27 1001.5v-7.4M506.27 741.1v7.4M521.94 1001.5v-3.8M521.94 741.1v3.8M531.11 1001.5v-3.8M531.11 741.1v3.8M537.61 1001.5v-3.8M537.61 741.1v3.8M542.66 1001.5v-3.8M542.66 741.1v3.8M546.78 1001.5v-3.8M546.78 741.1v3.8M550.27 1001.5v-3.8M550.27 741.1v3.8M553.29 1001.5v-3.8M553.29 741.1v3.8M555.95 1001.5v-3.8M555.95 741.1v3.8M558.33 1001.5v-7.4M558.33 741.1v7.4M574.01 1001.5v-3.8M574.01 741.1v3.8M583.18 1001.5v-3.8M583.18 741.1v3.8M589.68 1001.5v-3.8M589.68 741.1v3.8M594.73 1001.5v-3.8M594.73 741.1v3.8M598.85 1001.5v-3.8M598.85 741.1v3.8M602.33 1001.5v-3.8M602.33 741.1v3.8M605.35 1001.5v-3.8M605.35 741.1v3.8M608.02 1001.5v-3.8M608.02 741.1v3.8M610.40 1001.5v-7.4M610.40 741.1v7.4M626.07 1001.5v-3.8M626.07 741.1v3.8M635.24 1001.5v-3.8M635.24 741.1v3.8M641.75 1001.5v-3.8M641.75 741.1v3.8M646.79 1001.5v-3.8M646.79 741.1v3.8M650.92 1001.5v-3.8M650.92 741.1v3.8M654.40 1001.5v-3.8M654.40 741.1v3.8M657.42 1001.5v-3.8M657.42 741.1v3.8M660.08 1001.5v-3.8M660.08 741.1v3.8M662.47 1001.5v-7.4M662.47 741.1v7.4M678.14 1001.5v-3.8M678.14 741.1v3.8M687.31 1001.5v-3.8M687.31 741.1v3.8M693.81 1001.5v-3.8M693.81 741.1v3.8M698.86 1001.5v-3.8M698.86 741.1v3.8M702.98 1001.5v-3.8M702.98 741.1v3.8M706.47 1001.5v-3.8M706.47 741.1v3.8M709.49 1001.5v-3.8M709.49 741.1v3.8M712.15 1001.5v-3.8M712.15 741.1v3.8M714.53 1001.5v-7.4M714.53 741.1v7.4M730.21 1001.5v-3.8M730.21 741.1v3.8M739.38 1001.5v-3.8M739.38 741.1v3.8M745.88 1001.5v-3.8M745.88 741.1v3.8M750.93 1001.5v-3.8M750.93 741.1v3.8M755.05 1001.5v-3.8M755.05 741.1v3.8M758.53 1001.5v-3.8M758.53 741.1v3.8M761.55 1001.5v-3.8M761.55 741.1v3.8M764.22 1001.5v-3.8M764.22 741.1v3.8M766.60 1001.5v-7.4M766.60 741.1v7.4" stroke="#000" stroke-width="1.1" fill="none"/>
<path d="M454.2 1001.50h7.4M766.6 1001.50h-7.4M454.2 979.80h3.8M766.6 979.80h-3.8M454.2 958.10h7.4M766.6 958.10h-7.4M454.2 936.40h3.8M766.6 936.40h-3.8M454.2 914.70h7.4M766.6 914.70h-7.4M454.2 893.00h3.8M766.6 893.00h-3.8M454.2 871.30h7.4M766.6 871.30h-7.4M454.2 849.60h3.8M766.6 849.60h-3.8M454.2 827.90h7.4M766.6 827.90h-7.4M454.2 806.20h3.8M766.6 806.20h-3.8M454.2 784.50h7.4M766.6 784.50h-7.4M454.2 762.80h3.8M766.6 762.80h-3.8M454.2 741.10h7.4M766.6 741.10h-7.4" stroke="#000" stroke-width="1.1" fill="none"/>
<text x="437.30" y="1024.30" font-size="19.6">10<tspan dy="-11.2" font-size="12.0">0</tspan></text>
<text x="489.37" y="1024.30" font-size="19.6">10<tspan dy="-11.2" font-size="12.0">1</tspan></text>
<text x="541.43" y="1024.30" font-size="19.6">10<tspan dy="-11.2" font-size="12.0">2</tspan></text>
<text x="593.50" y="1024.30" font-size="19.6">10<tspan dy="-11.2" font-size="12.0">3</tspan></text>
<text x="645.57" y="1024.30" font-size="19.6">10<tspan dy="-11.2" font-size="12.0">4</tspan></text>
<text x="697.63" y="1024.30" font-size="19.6">10<tspan dy="-11.2" font-size="12.0">5</tspan></text>
<text x="749.70" y="1024.30" font-size="19.6">10<tspan dy="-11.2" font-size="12.0">6</tspan></text>
<text x="778.7" y="1008.30" font-size="19.6">0</text>
<text x="778.7" y="964.90" font-size="19.6">0.2</text>
<text x="778.7" y="921.50" font-size="19.6">0.4</text>
<text x="778.7" y="878.10" font-size="19.6">0.6</text>
<text x="778.7" y="834.70" font-size="19.6">0.8</text>
<text x="778.7" y="791.30" font-size="19.6">1</text>
<text x="778.7" y="747.90" font-size="19.6">1.2</text>
<text x="502.9" y="1039.9" font-size="19.6">total number of events M</text>
<text x="727.5" y="770.5" font-size="19.6">(d)</text>
<text transform="translate(836.7,1003) rotate(-90)" font-size="19.6">H<tspan dy="6" font-size="11.2">DFA2</tspan><tspan dy="-6" x="54.7">(1000</tspan><tspan x="111.0" font-size="17">&lt;</tspan><tspan x="136.9" font-size="19.6">s</tspan><tspan x="154.7" font-size="17">&lt;</tspan><tspan x="181.3" font-size="19.6">10000)</tspan></text>
</svg>
</body></html>
